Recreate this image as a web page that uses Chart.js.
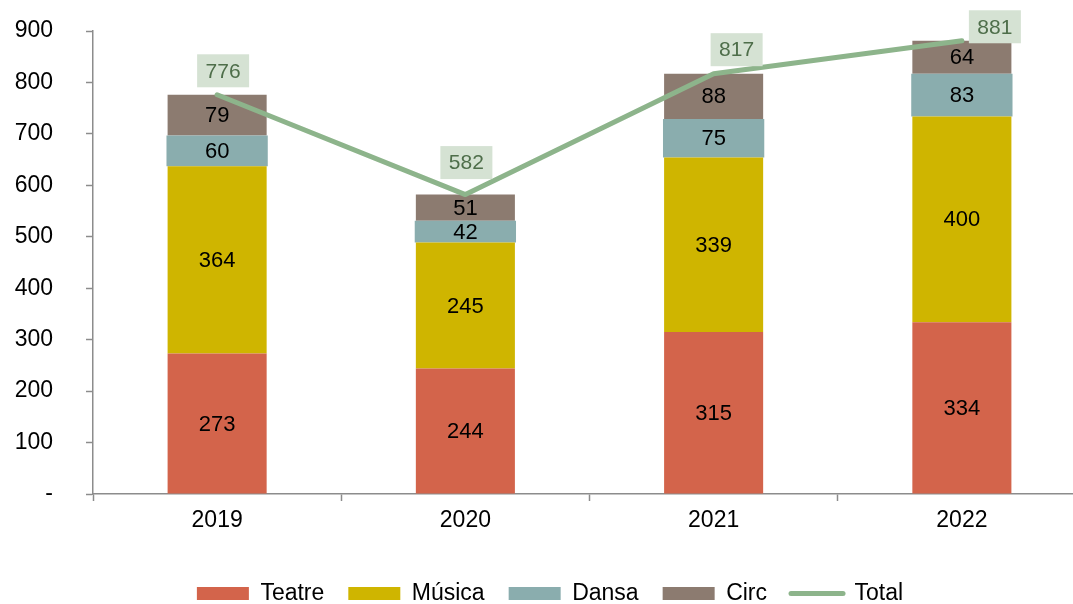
<!DOCTYPE html>
<html>
<head>
<meta charset="utf-8">
<script src="https://cdn.jsdelivr.net/npm/chart.js@4.4.1/dist/chart.umd.min.js"></script>
<style>
  html, body { margin: 0; padding: 0; background: #fff; overflow: hidden; }
  #wrap { position: absolute; left: 0; top: 0; width: 1100px; height: 620px; }
</style>
</head>
<body>
<div id="wrap"><canvas id="c"></canvas></div>
<script>
const categories = ['2019', '2020', '2021', '2022'];
const teatre = [273, 244, 315, 334];
const musica = [364, 245, 339, 400];
const dansa = [60, 42, 75, 83];
const circ = [79, 51, 88, 64];
const total = [776, 582, 817, 881];
const yTicks = [0, 100, 200, 300, 400, 500, 600, 700, 800, 900];

const FONT = "'Liberation Sans', Arial, sans-serif";
const AXIS = '#8c8c8c';

const barLabels = {
  id: 'barLabels',
  afterDatasetsDraw(chart, args, opts) {
    const ctx = chart.ctx;
    ctx.save();
    ctx.textAlign = 'center';
    ctx.textBaseline = 'middle';
    chart.data.datasets.forEach((ds, di) => {
      const meta = chart.getDatasetMeta(di);
      if (ds.type === 'line') {
        ctx.font = '21px ' + FONT;
        meta.data.forEach((pt, i) => {
          const off = opts.totalOffsets[i];
          const cx = pt.x + off[0], cy = pt.y + off[1];
          ctx.fillStyle = '#d5e2d3';
          ctx.fillRect(cx - 26, cy - 16.5, 52, 33);
          ctx.fillStyle = '#4e6e4a';
          ctx.fillText(String(ds.data[i]), cx, cy + 1);
        });
      } else {
        ctx.font = '22px ' + FONT;
        ctx.fillStyle = '#000';
        meta.data.forEach((bar, i) => {
          const p = bar.getCenterPoint();
          ctx.fillText(String(ds.data[i]), p.x, p.y + 1);
        });
      }
    });
    ctx.restore();
  }
};

new Chart(document.getElementById('c'), {
  data: {
    labels: categories,
    datasets: [
      { type: 'bar', label: 'Teatre', data: teatre, backgroundColor: '#d3644b', stack: 's', order: 1,
        barPercentage: 0.399, categoryPercentage: 1 },
      { type: 'bar', label: 'Música', data: musica, backgroundColor: '#cfb500', stack: 's', order: 1,
        barPercentage: 0.399, categoryPercentage: 1 },
      { type: 'bar', label: 'Dansa', data: dansa, backgroundColor: '#8aadae', stack: 's', order: 1,
        barPercentage: 0.408, categoryPercentage: 1, borderRadius: 3, borderSkipped: false },
      { type: 'bar', label: 'Circ', data: circ, backgroundColor: '#8c7b70', stack: 's', order: 1,
        barPercentage: 0.399, categoryPercentage: 1 },
      { type: 'line', label: 'Total', data: total, borderColor: '#8db48b', backgroundColor: '#8db48b',
        borderWidth: 5, pointRadius: 0, borderCapStyle: 'round', borderJoinStyle: 'round',
        tension: 0, stack: 'total', order: 0 }
    ]
  },
  options: {
    responsive: true,
    maintainAspectRatio: false,
    animation: false,
    events: [],
    layout: { padding: { left: 14, right: 14, top: 31, bottom: 5 } },
    scales: {
      x: {
        stacked: true,
        offset: true,
        grid: { display: true, drawOnChartArea: false, offset: true, color: AXIS, tickLength: 7, tickWidth: 1.5 },
        border: { display: true, color: AXIS, width: 1.5 },
        ticks: { color: '#000', font: { family: FONT, size: 23 }, padding: 6 },
        afterFit(scale) { scale.height = 64; scale.paddingLeft = 0; scale.paddingRight = 0; }
      },
      y: {
        stacked: true,
        min: 0,
        max: 900,
        afterBuildTicks(scale) { scale.ticks = yTicks.map(v => ({ value: v })); },
        grid: { display: true, drawOnChartArea: false, color: AXIS, tickLength: 7, tickWidth: 1.5 },
        border: { display: true, color: AXIS, width: 1.5 },
        ticks: {
          color: '#000', font: { family: FONT, size: 23 }, padding: 33,
          callback: (v) => v === 0 ? '-' : String(v)
        },
        afterFit(scale) { scale.width = 79; scale.paddingTop = 0; scale.paddingBottom = 0; }
      }
    },
    plugins: {
      tooltip: { enabled: false },
      legend: {
        position: 'bottom',
        labels: {
          color: '#000',
          font: { family: FONT, size: 23 },
          usePointStyle: true,
          pointStyleWidth: 52,
          boxHeight: 13,
          padding: 24,
          sort: (a, b) => a.datasetIndex - b.datasetIndex,
          generateLabels(chart) {
            const items = Chart.defaults.plugins.legend.labels.generateLabels(chart);
            items.forEach(it => {
              const ds = chart.data.datasets[it.datasetIndex];
              if (ds.type === 'line') {
                it.pointStyle = 'line';
                it.lineWidth = 5;
                it.strokeStyle = ds.borderColor;
                it.lineCap = 'round';
              } else {
                it.pointStyle = 'rect';
                it.lineWidth = 0;
                it.strokeStyle = 'rgba(0,0,0,0)';
              }
            });
            return items;
          }
        }
      },
      barLabels: { totalOffsets: [[6, -24], [1, -32], [23, -24], [33, -14]] }
    }
  },
  plugins: [barLabels]
});
</script>
</body>
</html>
